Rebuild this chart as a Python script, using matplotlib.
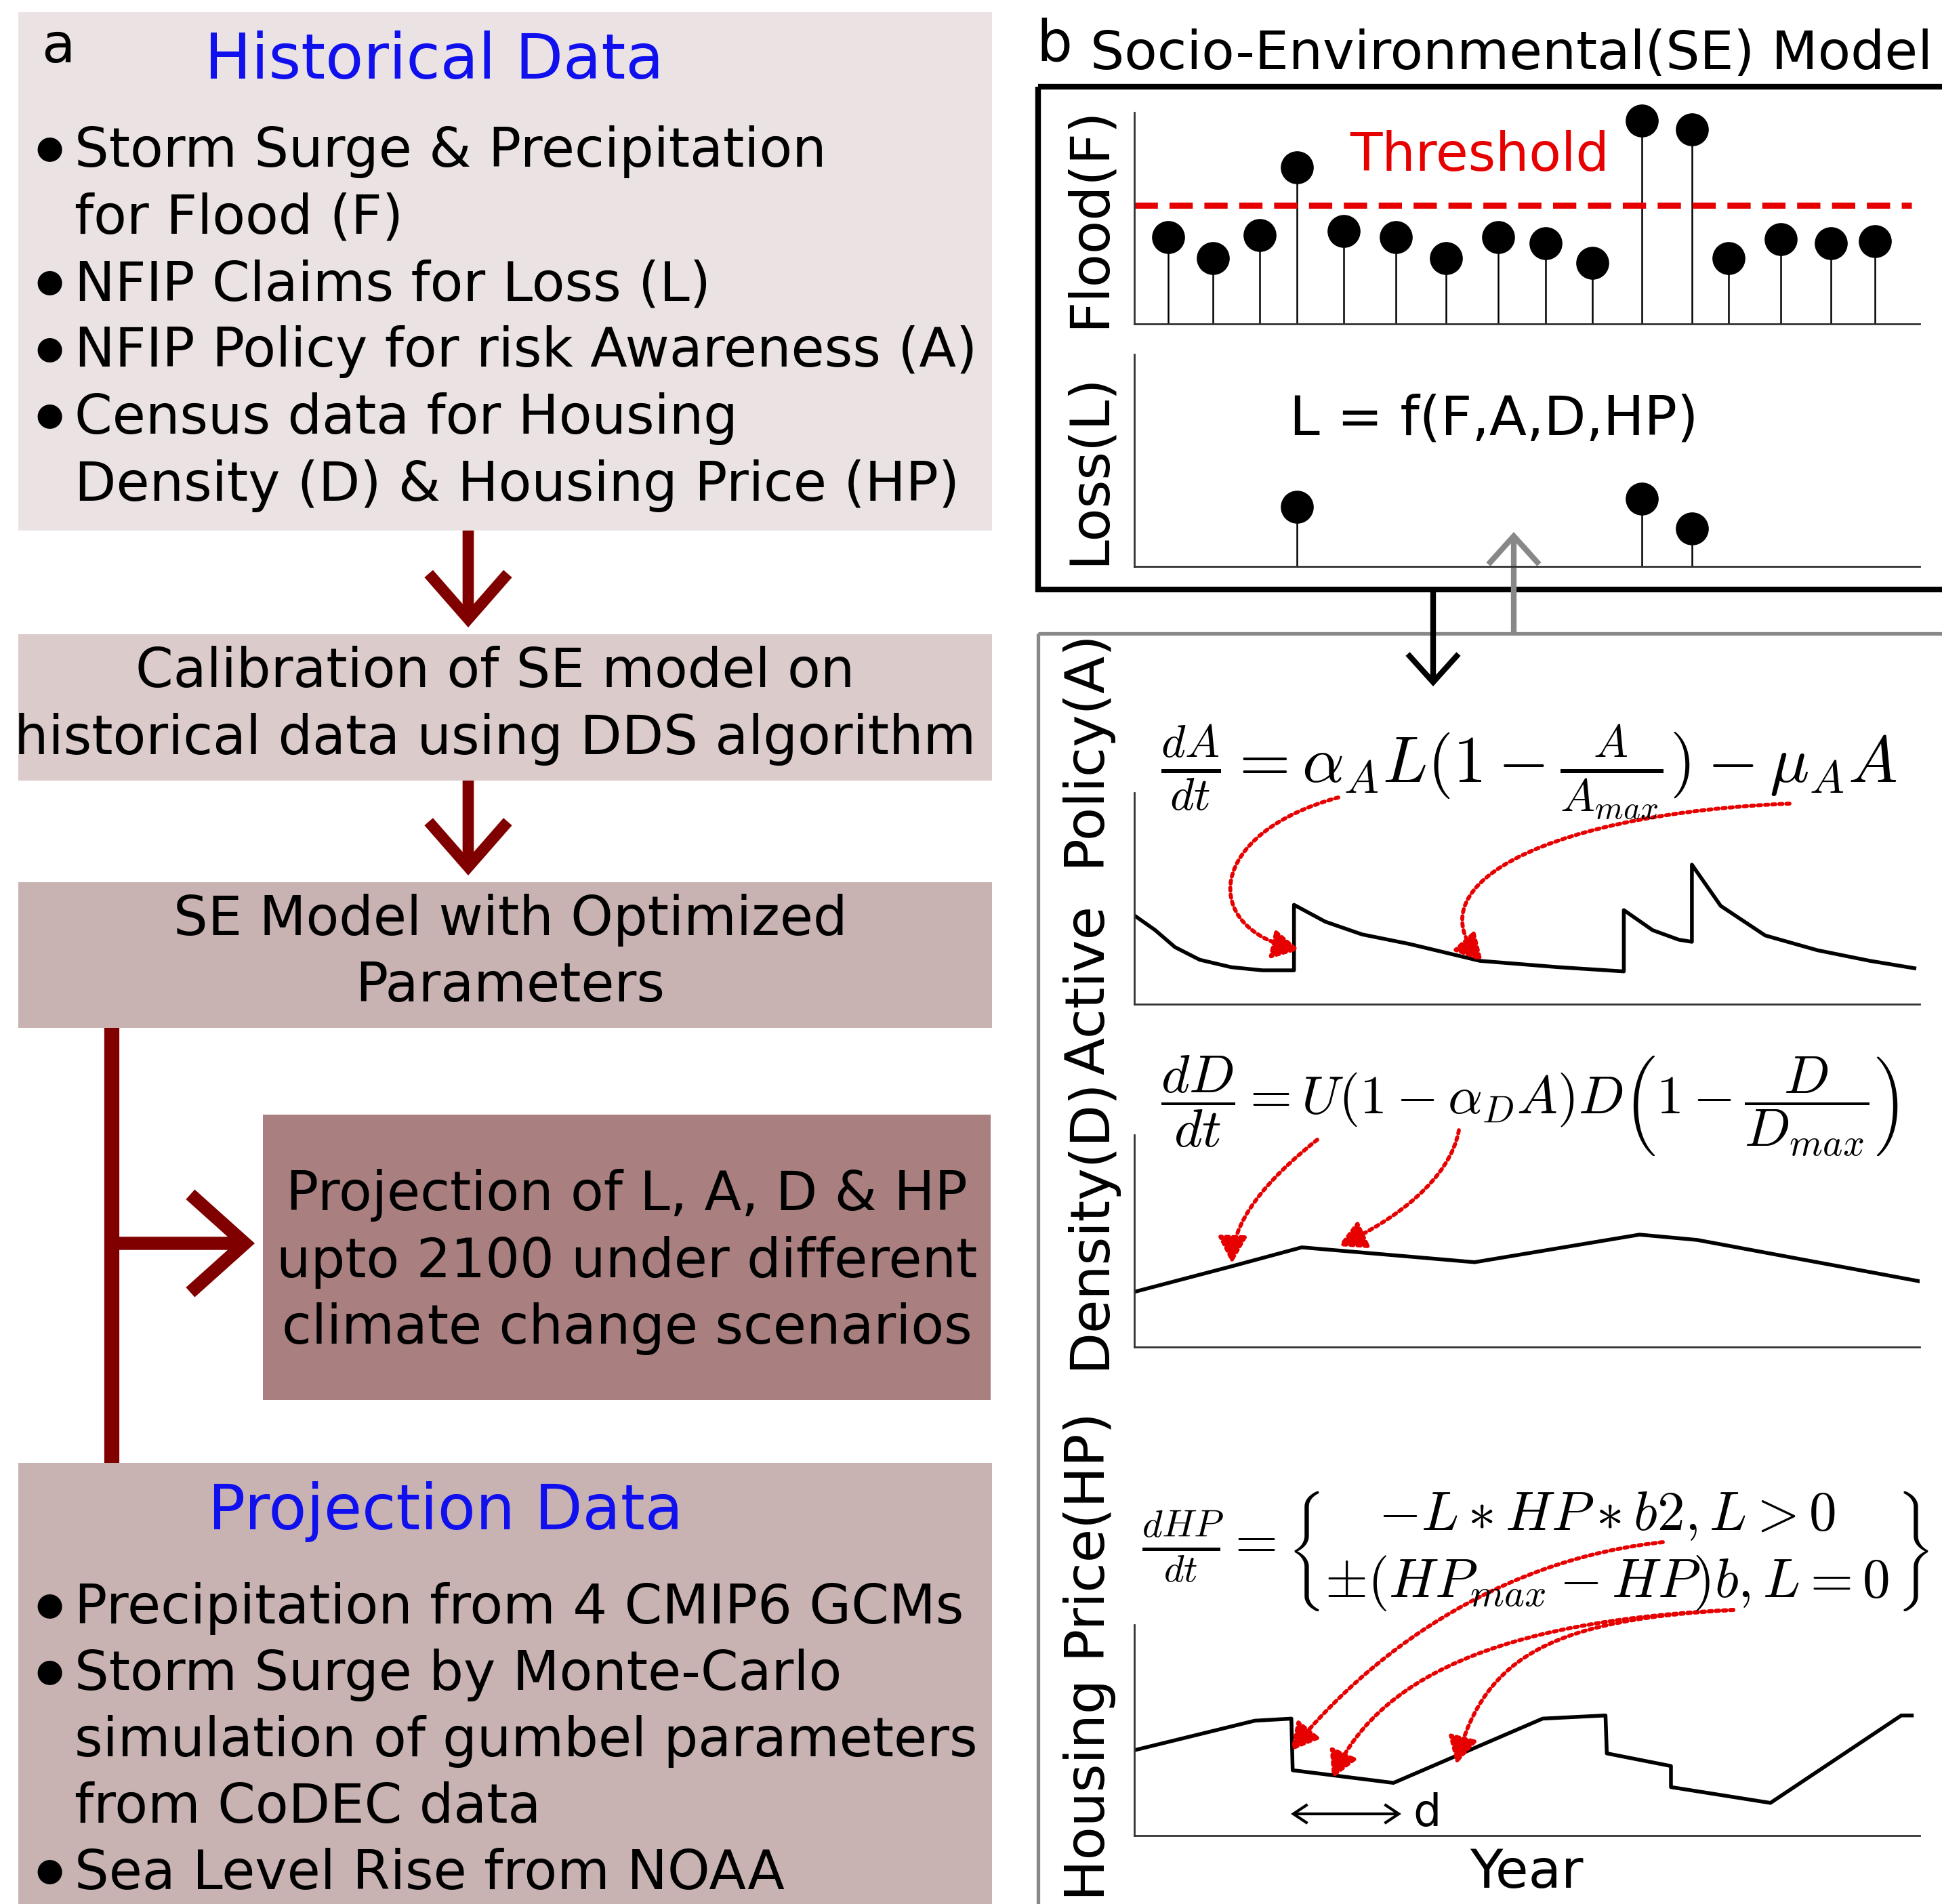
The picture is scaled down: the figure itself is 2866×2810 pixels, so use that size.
import numpy as np
import matplotlib
matplotlib.use('Agg')
import matplotlib.pyplot as plt
from matplotlib.patches import Rectangle, FancyArrowPatch
from matplotlib.path import Path

plt.rcParams['font.family'] = ['DejaVu Sans']
plt.rcParams['mathtext.fontset'] = 'cm'

W, H = 2866, 2810

# ---- data (x = year index 0..30, y = relative value 0..10)
flood_years = [1.3, 3.0, 4.8, 6.2, 8.0, 10.0, 11.9, 13.9, 15.7, 17.5, 19.4, 21.3, 22.7, 24.7, 26.6, 28.3]
flood = [4.1, 3.1, 4.2, 7.4, 4.4, 4.1, 3.1, 4.1, 3.8, 2.9, 9.6, 9.2, 3.1, 4.0, 3.8, 3.9]
threshold = 5.6

loss_years = [6.2, 19.4, 21.3]
loss = [2.8, 3.2, 1.8]

policy_years = [0.0, 0.8, 1.55, 2.5, 3.7, 4.9, 6.1, 6.1, 7.3, 8.7, 10.5, 13.2, 16.2, 18.7,
                18.7, 19.8, 20.8, 21.3, 21.3, 22.4, 24.1, 26.1, 28.1, 29.8]
policy = [4.2, 3.5, 2.7, 2.1, 1.75, 1.6, 1.6, 4.7, 3.9, 3.3, 2.85, 2.05, 1.75, 1.55,
          4.45, 3.5, 3.05, 2.95, 6.6, 4.65, 3.25, 2.55, 2.05, 1.7]

density_years = [0.0, 3.7, 6.4, 13.0, 19.3, 21.5, 30.0]
density = [2.6, 3.8, 4.7, 4.0, 5.3, 5.05, 3.1]

price_years = [0.0, 4.6, 6.0, 6.05, 9.9, 15.6, 18.0, 18.05, 20.5, 20.5, 24.3, 29.3, 29.7]
price = [4.05, 5.45, 5.55, 3.1, 2.5, 5.55, 5.7, 3.9, 3.3, 2.3, 1.55, 5.7, 5.7]

hist_lines = ['Storm Surge & Precipitation', 'for Flood (F)', 'NFIP Claims for Loss (L)',
              'NFIP Policy for risk Awareness (A)', 'Census data for Housing',
              'Density (D) & Housing Price (HP)']
hist_bullets = [True, False, True, True, True, False]
proj_lines = ['Precipitation from 4 CMIP6 GCMs', 'Storm Surge by Monte-Carlo',
              'simulation of gumbel parameters', 'from CoDEC data', 'Sea Level Rise from NOAA']
proj_bullets = [True, True, False, False, True]
calib_lines = ['Calibration of SE model on', 'historical data using DDS algorithm']
semodel_lines = ['SE Model with Optimized', 'Parameters']
projection_lines = ['Projection of L, A, D & HP', 'upto 2100 under different', 'climate change scenarios']

DARKRED = '#800000'
BLUE = '#1010EE'
RED = '#E60000'
FS = 57.5

fig = plt.figure(figsize=(W / 100, H / 100), dpi=100)

# background axes in pixel coordinates
bg = fig.add_axes([0, 0, 1, 1])
bg.set_xlim(0, W)
bg.set_ylim(H, 0)
bg.axis('off')

# ---- panel a: boxes
boxes = [(27, 18, 1464, 783, '#EBE3E3'),
         (27, 936, 1464, 1152, '#DCCBCB'),
         (27, 1302, 1464, 1517, '#C9B2B2'),
         (388, 1645, 1462, 2066, '#A97F80'),
         (27, 2159, 1464, 2830, '#C9B2B2')]
for x0, y0, x1, y1, c in boxes:
    bg.add_patch(Rectangle((x0, y0), x1 - x0, y1 - y0, facecolor=c, edgecolor='none', zorder=1))


def arrow(ax, p0, p1, lw, color, hl, hw, style='->', **kw):
    a = FancyArrowPatch(p0, p1, arrowstyle=f'{style},head_length={hl},head_width={hw}',
                        lw=lw, color=color, mutation_scale=1, shrinkA=0, shrinkB=0,
                        capstyle='butt', joinstyle='miter', **kw)
    ax.add_patch(a)


arrow(bg, (691, 783), (691, 926), 12, DARKRED, 48, 42, zorder=2)
arrow(bg, (691, 1152), (691, 1292), 12, DARKRED, 48, 42, zorder=2)
bg.plot([165, 165], [1517, 2159], color=DARKRED, lw=16, solid_capstyle='butt', zorder=2)
arrow(bg, (165, 1835), (376, 1835), 14, DARKRED, 58, 52, zorder=2)

# panel a: texts
DY = 5
bg.text(86, 70, 'a', fontsize=58, ha='center', va='center', zorder=3)
bg.text(641, 85 + DY, 'Historical Data', fontsize=66, color=BLUE, ha='center', va='center', zorder=3)
for i, (t, b) in enumerate(zip(hist_lines, hist_bullets)):
    y = 219 + i * 98.5 + DY
    if b:
        bg.text(73, y - 4, '\u25CF', fontsize=34, ha='center', va='center', zorder=3)
    bg.text(110, y, t, fontsize=FS, ha='left', va='center', zorder=3)
for i, t in enumerate(calib_lines):
    bg.text(731, 987 + i * 99 + DY, t, fontsize=FS, ha='center', va='center', zorder=3)
for i, t in enumerate(semodel_lines):
    bg.text(753, 1353 + i * 98 + DY, t, fontsize=FS, ha='center', va='center', zorder=3)
for i, t in enumerate(projection_lines):
    bg.text(925, 1759 + i * 98.5 + DY, t, fontsize=FS, ha='center', va='center', zorder=3)
bg.text(658, 2226 + DY, 'Projection Data', fontsize=66, color=BLUE, ha='center', va='center', zorder=3)
for i, (t, b) in enumerate(zip(proj_lines, proj_bullets)):
    y = 2369 + i * 98 + DY
    if b:
        bg.text(73, y - 4, '\u25CF', fontsize=34, ha='center', va='center', zorder=3)
    bg.text(110, y, t, fontsize=FS, ha='left', va='center', zorder=3)

# ---- panel b frames
bg.add_patch(Rectangle((1532, 128), 1400, 742, facecolor='none', edgecolor='black', lw=6, zorder=2))
bg.add_patch(Rectangle((1532, 935), 1400, 1950, facecolor='none', edgecolor='#888888', lw=3.8, zorder=2))
arrow(bg, (2115, 870), (2115, 1013), 6, 'black', 30, 27, zorder=3)
arrow(bg, (2234, 935), (2234, 785), 6, '#888888', 30, 27, zorder=3)

bg.text(1556, 66, 'b', fontsize=60, ha='center', va='center', zorder=3)
bg.text(1609, 80, 'Socio-Environmental(SE) Model', fontsize=57, ha='left', va='center', zorder=3)


def pax(x0, y0, x1, y1):
    ax = fig.add_axes([x0 / W, 1 - y1 / H, (x1 - x0) / W, (y1 - y0) / H])
    ax.set_xlim(0, 30)
    ax.set_ylim(0, 10)
    ax.set_facecolor('none')
    for s in ['top', 'right']:
        ax.spines[s].set_visible(False)
    for s in ['left', 'bottom']:
        ax.spines[s].set_linewidth(2)
        ax.spines[s].set_color('#333333')
    ax.set_xticks([])
    ax.set_yticks([])
    return ax


L, R = 1674, 2833
ax_f = pax(L, 166, R, 478)
ml, sl, bl = ax_f.stem(flood_years, flood, linefmt='k-', markerfmt='ko', basefmt=' ')
ml.set_markersize(34)
ml.set_clip_on(False)
sl.set_linewidth(1.8)
ax_f.axhline(threshold, xmax=0.99, color=RED, lw=6.5, dashes=(3.8, 1.9))

ax_l = pax(L, 523, R, 836)
ml, sl, bl = ax_l.stem(loss_years, loss, linefmt='k-', markerfmt='ko', basefmt=' ')
ml.set_markersize(34)
sl.set_linewidth(1.8)

ax_a = pax(L, 1170, R, 1482)
ax_a.plot(policy_years, policy, color='black', lw=4)

ax_d = pax(L, 1675, R, 1988)
ax_d.plot(density_years, density, color='black', lw=4)

ax_h = pax(L, 2398, R, 2709)
ax_h.plot(price_years, price, color='black', lw=4)

# ---- overlay: labels, equations, annotation arrows
ov = fig.add_axes([0, 0, 1, 1], zorder=20)
ov.set_xlim(0, W)
ov.set_ylim(H, 0)
ov.axis('off')
ov.patch.set_alpha(0)

for t, y in [('Flood(F)', 320), ('Loss(L)', 692), ('Active  Policy(A)', 1261),
             ('Density(D)', 1806), ('Housing Price(HP)', 2445)]:
    ov.text(1608, y, t, fontsize=58, rotation=90, ha='center', va='center')

ov.text(2184, 230, 'Threshold', fontsize=56, color=RED, ha='center', va='center')
ov.text(2205, 620, 'L = f(F,A,D,HP)', fontsize=58, ha='center', va='center')
ov.text(2253, 2764, 'Year', fontsize=57, ha='center', va='center')
ov.text(2085, 2677, 'd', fontsize=47, ha='left', va='center')
arrow(ov, (1905, 2677), (2068, 2677), 3, 'black', 15, 10, style='<->')

ov.text(1713, 1140, r'$\frac{dA}{dt}=\alpha_A L(1-\frac{A}{A_{max}})-\mu_A A$',
        fontsize=70, ha='left', va='center')
ov.text(1713, 1632, r'$\dfrac{dD}{dt}=U(1-\alpha_D A)D\left(1-\dfrac{D}{D_{max}}\right)$',
        fontsize=57.5, ha='left', va='center')
ov.text(1685, 2290,
        r'$\frac{dHP}{dt}=\left\{\genfrac{}{}{0}{0}{-L\ast HP\ast b2,L>0}{\pm(HP_{max}-HP)b,L=0}\right\}$',
        fontsize=58.5, ha='left', va='center')

red_paths = [
    [(1975, 1177), (1780, 1230), (1770, 1370), (1918, 1402)],
    [(2641, 1186), (2300, 1200), (2080, 1300), (2188, 1419)],
    [(1944, 1682), (1890, 1725), (1820, 1790), (1818, 1865)],
    [(2153, 1668), (2140, 1740), (2060, 1800), (1975, 1839)],
    [(2454, 2276), (2230, 2300), (2040, 2420), (1905, 2584)],
    [(2558, 2376), (2250, 2390), (2040, 2460), (1966, 2625)],
    [(2558, 2376), (2300, 2390), (2190, 2440), (2149, 2604)],
]
for verts in red_paths:
    p = Path(verts, [Path.MOVETO, Path.CURVE4, Path.CURVE4, Path.CURVE4])
    ov.add_patch(FancyArrowPatch(path=p, arrowstyle='-|>,head_length=24,head_width=13',
                                 mutation_scale=1, color=RED, lw=4.2, linestyle=(0, (0.8, 1.0))))

fig.savefig('out.png', dpi=100)
